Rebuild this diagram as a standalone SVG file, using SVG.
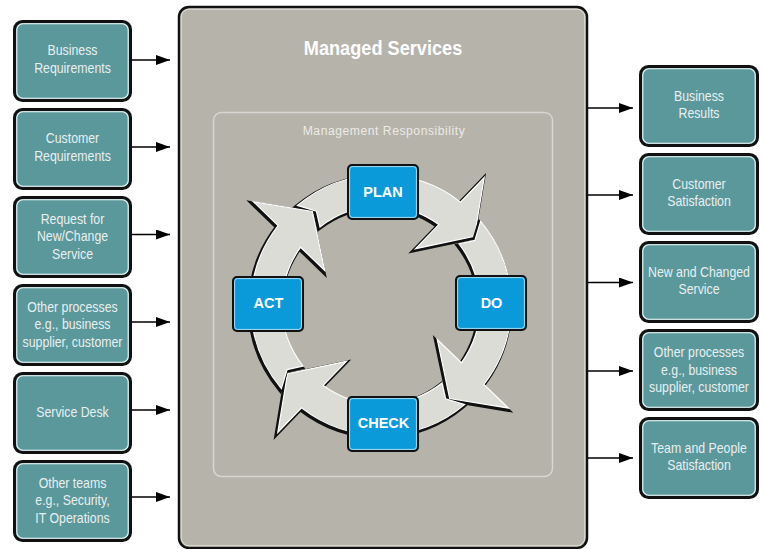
<svg xmlns="http://www.w3.org/2000/svg" xmlns:xlink="http://www.w3.org/1999/xlink" width="763" height="549" viewBox="0 0 763 549">
  <style>
    .frame { fill: #b6b3ab; stroke: #111; stroke-width: 2.5; }
    .frameIn { fill: none; stroke: #e4e2dc; stroke-width: 1; }
    .zone { fill: none; stroke: #d8d6d0; stroke-width: 1.5; }
    .tile { fill: #5b989c; stroke: #111; stroke-width: 3; }
    .tileIn { fill: none; stroke: #f2f6f6; stroke-width: 1.1; }
    .step { fill: #0a99d9; stroke: #111; stroke-width: 2; }
    .stepIn { fill: none; stroke: #cfeefb; stroke-width: 0.8; }
    .cond { font-family: "Liberation Sans", Arial, sans-serif; }
    .tileTxt { fill: #e8efef; font-size: 14px; text-anchor: middle; }
    .title { fill: #ffffff; font-size: 21px; font-weight: bold; text-anchor: middle; }
    .zoneTxt { fill: #eceae5; font-size: 13.5px; letter-spacing: 0.6px; text-anchor: middle; }
    .stepTxt { fill: #ffffff; font-family: "Liberation Sans", Arial, sans-serif; font-size: 14.5px; font-weight: bold; text-anchor: middle; }
    .link { stroke: #000; stroke-width: 1.6; fill: none; }
    .ring { fill: #dcdcd6; stroke: #ffffff; stroke-width: 1.2; stroke-linejoin: miter; }
    .ringShade { fill: #111; stroke: #111; stroke-width: 4; stroke-linejoin: miter; }
  </style>
  <defs>
    <marker id="head" viewBox="0 0 14 10" refX="14" refY="5" markerWidth="14" markerHeight="10" markerUnits="userSpaceOnUse" orient="auto">
      <path d="M0,0 L14,5 L0,10 Z" fill="#000"/>
    </marker>
    <!-- one quarter of the cycle: notched tail, shaft along the ring, triangular head -->
    <path id="quarter" d="M297.4,205.4 A130,130 0 0 1 460.5,202.1 L484.2,177.5 L474.5,236.3 L415.5,248.7 L438.8,224.6 A99,99 0 0 0 320.0,227.0 L316.4,211.1 Z"/>
  </defs>

  <!-- central frame -->
  <g id="managed-services">
    <rect class="frame" x="179" y="7" width="408" height="541" rx="10"/>
    <rect class="frameIn" x="181.2" y="9.2" width="403.6" height="536.6" rx="8"/>
    <g transform="translate(383,0) scale(0.865,1)">
      <text class="title cond" x="0" y="55">Managed Services</text>
    </g>
  </g>
  <g id="management-responsibility">
    <rect class="zone" x="213.5" y="112.5" width="339" height="364" rx="8"/>
    <g transform="translate(384,0) scale(0.9,1)">
      <text class="zoneTxt cond" x="0" y="135">Management Responsibility</text>
    </g>
  </g>

  <!-- cycle ring -->
  <g id="cycle">
    <g transform="translate(-1.2,1.5)"><use xlink:href="#quarter" class="ringShade"/></g>
    <use xlink:href="#quarter" class="ring"/>
    <g transform="translate(-1.2,1.5)"><use xlink:href="#quarter" class="ringShade" transform="rotate(90 381 305)"/></g>
    <use xlink:href="#quarter" class="ring" transform="rotate(90 381 305)"/>
    <g transform="translate(-1.2,1.5)"><use xlink:href="#quarter" class="ringShade" transform="rotate(180 381 305)"/></g>
    <use xlink:href="#quarter" class="ring" transform="rotate(180 381 305)"/>
    <g transform="translate(-1.2,1.5)"><use xlink:href="#quarter" class="ringShade" transform="rotate(270 381 305)"/></g>
    <use xlink:href="#quarter" class="ring" transform="rotate(270 381 305)"/>
  </g>

  <g id="plan">
    <rect class="step" x="348" y="165" width="70" height="54" rx="4"/>
    <rect class="stepIn" x="349.6" y="166.6" width="66.8" height="50.8" rx="3"/>
    <text class="stepTxt" x="383" y="196.5">PLAN</text>
  </g>
  <g id="do">
    <rect class="step" x="456" y="276" width="70" height="54" rx="4"/>
    <rect class="stepIn" x="457.6" y="277.6" width="66.8" height="50.8" rx="3"/>
    <text class="stepTxt" x="491.5" y="307.5">DO</text>
  </g>
  <g id="act">
    <rect class="step" x="233" y="277" width="70" height="54" rx="4"/>
    <rect class="stepIn" x="234.6" y="278.6" width="66.8" height="50.8" rx="3"/>
    <text class="stepTxt" x="268.5" y="308">ACT</text>
  </g>
  <g id="check">
    <rect class="step" x="348" y="397" width="70" height="54" rx="4"/>
    <rect class="stepIn" x="349.6" y="398.6" width="66.8" height="50.8" rx="3"/>
    <text class="stepTxt" x="383.5" y="428">CHECK</text>
  </g>

  <!-- inputs -->
  <g id="business-requirements">
    <rect class="tile" x="14.5" y="21.5" width="116" height="79" rx="8"/>
    <rect class="tileIn" x="16.8" y="23.8" width="111.4" height="74.4" rx="6"/>
    <g transform="translate(72.5,0) scale(0.88,1)">
      <text class="tileTxt cond" x="0" y="55.5">Business</text>
      <text class="tileTxt cond" x="0" y="73.5">Requirements</text>
    </g>
  </g>
  <g id="customer-requirements">
    <rect class="tile" x="14.5" y="109.5" width="116" height="79" rx="8"/>
    <rect class="tileIn" x="16.8" y="111.8" width="111.4" height="74.4" rx="6"/>
    <g transform="translate(72.5,0) scale(0.88,1)">
      <text class="tileTxt cond" x="0" y="143.5">Customer</text>
      <text class="tileTxt cond" x="0" y="161.5">Requirements</text>
    </g>
  </g>
  <g id="request-new-change">
    <rect class="tile" x="14.5" y="197.5" width="116" height="79" rx="8"/>
    <rect class="tileIn" x="16.8" y="199.8" width="111.4" height="74.4" rx="6"/>
    <g transform="translate(72.5,0) scale(0.88,1)">
      <text class="tileTxt cond" x="0" y="224">Request for</text>
      <text class="tileTxt cond" x="0" y="241.5">New/Change</text>
      <text class="tileTxt cond" x="0" y="259">Service</text>
    </g>
  </g>
  <g id="other-processes-in">
    <rect class="tile" x="14.5" y="285.5" width="116" height="79" rx="8"/>
    <rect class="tileIn" x="16.8" y="287.8" width="111.4" height="74.4" rx="6"/>
    <g transform="translate(72.5,0) scale(0.88,1)">
      <text class="tileTxt cond" x="0" y="312">Other processes</text>
      <text class="tileTxt cond" x="0" y="329.5">e.g., business</text>
      <text class="tileTxt cond" x="0" y="347">supplier, customer</text>
    </g>
  </g>
  <g id="service-desk">
    <rect class="tile" x="14.5" y="373.5" width="116" height="79" rx="8"/>
    <rect class="tileIn" x="16.8" y="375.8" width="111.4" height="74.4" rx="6"/>
    <g transform="translate(72.5,0) scale(0.88,1)">
      <text class="tileTxt cond" x="0" y="417">Service Desk</text>
    </g>
  </g>
  <g id="other-teams">
    <rect class="tile" x="14.5" y="461.5" width="116" height="79" rx="8"/>
    <rect class="tileIn" x="16.8" y="463.8" width="111.4" height="74.4" rx="6"/>
    <g transform="translate(72.5,0) scale(0.88,1)">
      <text class="tileTxt cond" x="0" y="488">Other teams</text>
      <text class="tileTxt cond" x="0" y="505.5">e.g., Security,</text>
      <text class="tileTxt cond" x="0" y="523">IT Operations</text>
    </g>
  </g>

  <!-- outputs -->
  <g id="business-results">
    <rect class="tile" x="640.5" y="66.5" width="117" height="79" rx="8"/>
    <rect class="tileIn" x="642.8" y="68.8" width="112.4" height="74.4" rx="6"/>
    <g transform="translate(699,0) scale(0.88,1)">
      <text class="tileTxt cond" x="0" y="101">Business</text>
      <text class="tileTxt cond" x="0" y="118.5">Results</text>
    </g>
  </g>
  <g id="customer-satisfaction">
    <rect class="tile" x="640.5" y="154.5" width="117" height="79" rx="8"/>
    <rect class="tileIn" x="642.8" y="156.8" width="112.4" height="74.4" rx="6"/>
    <g transform="translate(699,0) scale(0.88,1)">
      <text class="tileTxt cond" x="0" y="189">Customer</text>
      <text class="tileTxt cond" x="0" y="206.5">Satisfaction</text>
    </g>
  </g>
  <g id="new-changed-service">
    <rect class="tile" x="640.5" y="242.5" width="117" height="79" rx="8"/>
    <rect class="tileIn" x="642.8" y="244.8" width="112.4" height="74.4" rx="6"/>
    <g transform="translate(699,0) scale(0.88,1)">
      <text class="tileTxt cond" x="0" y="277">New and Changed</text>
      <text class="tileTxt cond" x="0" y="294.5">Service</text>
    </g>
  </g>
  <g id="other-processes-out">
    <rect class="tile" x="640.5" y="330.5" width="117" height="79" rx="8"/>
    <rect class="tileIn" x="642.8" y="332.8" width="112.4" height="74.4" rx="6"/>
    <g transform="translate(699,0) scale(0.88,1)">
      <text class="tileTxt cond" x="0" y="357.5">Other processes</text>
      <text class="tileTxt cond" x="0" y="375">e.g., business</text>
      <text class="tileTxt cond" x="0" y="392.5">supplier, customer</text>
    </g>
  </g>
  <g id="team-people-satisfaction">
    <rect class="tile" x="640.5" y="418.5" width="117" height="79" rx="8"/>
    <rect class="tileIn" x="642.8" y="420.8" width="112.4" height="74.4" rx="6"/>
    <g transform="translate(699,0) scale(0.88,1)">
      <text class="tileTxt cond" x="0" y="453">Team and People</text>
      <text class="tileTxt cond" x="0" y="470.5">Satisfaction</text>
    </g>
  </g>

  <!-- connectors -->
  <g id="connectors">
    <line class="link" x1="132" y1="60" x2="170" y2="60" marker-end="url(#head)"/>
    <line class="link" x1="132" y1="147" x2="170" y2="147" marker-end="url(#head)"/>
    <line class="link" x1="132" y1="234.5" x2="170" y2="234.5" marker-end="url(#head)"/>
    <line class="link" x1="132" y1="322" x2="170" y2="322" marker-end="url(#head)"/>
    <line class="link" x1="132" y1="410" x2="170" y2="410" marker-end="url(#head)"/>
    <line class="link" x1="132" y1="497" x2="170" y2="497" marker-end="url(#head)"/>
    <line class="link" x1="588" y1="108" x2="633" y2="108" marker-end="url(#head)"/>
    <line class="link" x1="588" y1="195" x2="633" y2="195" marker-end="url(#head)"/>
    <line class="link" x1="588" y1="282.5" x2="633" y2="282.5" marker-end="url(#head)"/>
    <line class="link" x1="588" y1="371" x2="633" y2="371" marker-end="url(#head)"/>
    <line class="link" x1="588" y1="458" x2="633" y2="458" marker-end="url(#head)"/>
  </g>
</svg>
